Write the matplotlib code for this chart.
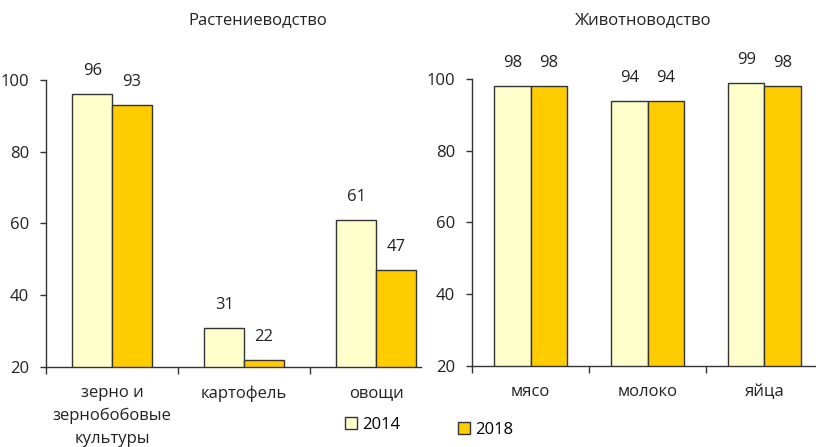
import matplotlib
matplotlib.use("Agg")
import matplotlib.pyplot as plt
from matplotlib.patches import Patch
import numpy as np

plt.rcParams['font.family'] = ['Open Sans', 'DejaVu Sans']

plant_cats = ["зерно и\nзернобобовые\nкультуры", "картофель", "овощи"]
plant_2014 = [96, 31, 61]
plant_2018 = [93, 22, 47]

animal_cats = ["мясо", "молоко", "яйца"]
animal_2014 = [98, 94, 99]
animal_2018 = [98, 94, 98]

years = ["2014", "2018"]
yticks = [20, 40, 60, 80, 100]

c14 = "#FFFFCC"
c18 = "#FFCC00"
edge = "#333333"

W, H = 816, 447
fig = plt.figure(figsize=(W/100, H/100), dpi=100)

def make_ax(x0, x1, y_top, y_bot):
    return fig.add_axes([x0/W, 1 - y_bot/H, (x1-x0)/W, (y_bot-y_top)/H])

def draw(ax, cats, v14, v18, width_units, bw, title, title_x):
    x = np.arange(len(cats))
    ax.bar(x - bw/2, v14, bw, bottom=0, color=c14, edgecolor=edge, linewidth=1.0, zorder=2)
    ax.bar(x + bw/2, v18, bw, bottom=0, color=c18, edgecolor=edge, linewidth=1.0, zorder=2)
    for xi, v in zip(x - bw/2, v14):
        ax.annotate(str(v), (xi, v), xytext=(0, 16.5), textcoords="offset points",
                    ha="center", va="center", fontsize=12, color="#222222")
    for xi, v in zip(x + bw/2, v18):
        ax.annotate(str(v), (xi, v), xytext=(0, 16.5), textcoords="offset points",
                    ha="center", va="center", fontsize=12, color="#222222")
    ax.set_ylim(20, 100)
    ax.set_xlim(-0.5, -0.5 + width_units)
    ax.set_yticks(yticks)
    ax.set_xticks(x)
    ax.set_xticklabels(cats, fontsize=12, color="#222222", linespacing=1.55, va="top")
    ax.tick_params(axis="x", which="major", length=0, pad=13)
    ax.set_xticks(np.arange(len(cats)) - 0.5, minor=True)
    ax.tick_params(axis="x", which="minor", length=5, width=1, color="#333333", direction="out")
    ax.tick_params(axis="y", length=4, width=1, color="#333333", pad=8, labelsize=12, labelcolor="#222222")
    for s in ["top", "right"]:
        ax.spines[s].set_visible(False)
    for s in ["left", "bottom"]:
        ax.spines[s].set_color("#333333")
        ax.spines[s].set_linewidth(1)
    fig.text(title_x/W, 1 - 20/H, title, ha="center", va="center", fontsize=12, color="#222222")

# left axes: y-axis at 46px, category unit 132px, right edge at ~421px
ax1 = make_ax(46, 421, 80, 367)
draw(ax1, plant_cats, plant_2014, plant_2018, (421-46)/132, 0.30, "Растениеводство", 258)

# right axes: y-axis at 472px, unit 117px, extends to figure edge
ax2 = make_ax(472, 816, 79, 366)
draw(ax2, animal_cats, animal_2014, animal_2018, (816-472)/117, 0.31, "Животноводство", 643)

h14 = [Patch(facecolor=c14, edgecolor=edge, linewidth=1)]
h18 = [Patch(facecolor=c18, edgecolor=edge, linewidth=1)]
fig.legend(h14, [years[0]], loc="center left", bbox_to_anchor=(345/W, 1 - 425/H),
           frameon=False, fontsize=12, handlelength=0.7, handleheight=0.7, handletextpad=0.3,
           borderaxespad=0, borderpad=0)
fig.legend(h18, [years[1]], loc="center left", bbox_to_anchor=(458/W, 1 - 430/H),
           frameon=False, fontsize=12, handlelength=0.7, handleheight=0.7, handletextpad=0.3,
           borderaxespad=0, borderpad=0)

fig.savefig("out.png", dpi=100)
